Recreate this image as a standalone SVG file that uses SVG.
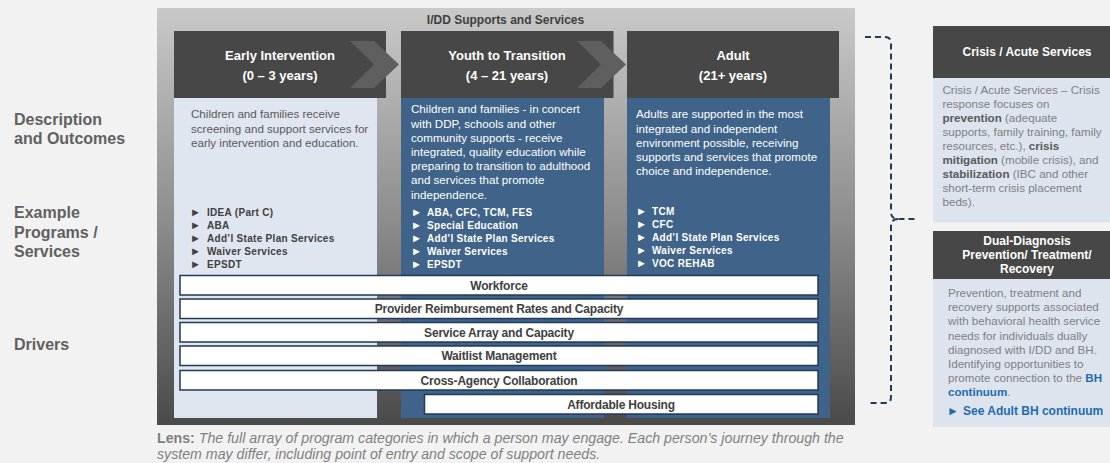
<svg xmlns="http://www.w3.org/2000/svg" width="1110" height="463" viewBox="0 0 1110 463">
<defs>
<linearGradient id="cg" x1="0" y1="0" x2="0" y2="1">
<stop offset="0" stop-color="#c9c9c9"/>
<stop offset="0.5" stop-color="#8e8e8e"/>
<stop offset="1" stop-color="#4a4a4a"/>
</linearGradient>
<style>
text{font-family:"Liberation Sans",Arial,sans-serif;}
.hdr{fill:#474747;}
.chev{fill:#5f5f5f;}
.ht{fill:#fff;font-size:13px;font-weight:bold;text-anchor:middle;}
.rh{fill:#fff;font-size:12px;font-weight:bold;text-anchor:middle;}
.lt{fill:#dfe6ef;}
.bl{fill:#406389;}
.body{font-size:11.6px;}
.g{fill:#595959;}
.w{fill:#ffffff;}
.bul{font-size:10px;font-weight:bold;letter-spacing:0.3px;}
.mk{font-size:11px;}
.lab{fill:#606060;font-size:16px;font-weight:bold;}
.drv rect{fill:#fff;stroke:#1f3a5a;stroke-width:1.5;}
.drv text{fill:#404040;font-size:12px;font-weight:bold;text-anchor:middle;letter-spacing:-0.2px;}
.rb{fill:#dde4ee;}
.rt{fill:#7f7f7f;font-size:11.6px;}
.b{font-weight:bold;fill:#595959;}
.blue{font-weight:bold;fill:#1f6bb0;}
.lens{fill:#808080;font-size:14.2px;font-style:italic;}
</style>
</defs>
<rect x="0" y="0" width="1110" height="463" fill="#f2f2f2"/>

<g id="labels">
<text class="lab" x="14" y="125">Description</text>
<text class="lab" x="14" y="144">and Outcomes</text>
<text class="lab" x="14" y="218">Example</text>
<text class="lab" x="14" y="237.5">Programs /</text>
<text class="lab" x="14" y="257">Services</text>
<text class="lab" x="14" y="350">Drivers</text>
</g>

<g id="container">
<rect x="157" y="8" width="698" height="417" fill="url(#cg)"/>
<text x="505.5" y="24" fill="#404040" font-size="12" font-weight="bold" text-anchor="middle">I/DD Supports and Services</text>
</g>

<g id="early-intervention">
<rect class="lt" x="174" y="98" width="203" height="320"/>
<rect class="hdr" x="174" y="31" width="212" height="67"/>
<polygon class="chev" points="350,41 374,41 399,64.5 374,88 350,88 374,64.5"/>
<text class="ht" x="280" y="59.5">Early Intervention</text>
<text class="ht" x="280" y="80">(0 – 3 years)</text>
<text class="body g" x="191" y="118">Children and families receive</text>
<text class="body g" x="191" y="132.5">screening and support services for</text>
<text class="body g" x="191" y="147">early intervention and education.</text>
<g fill="#404040">
<text class="mk" x="190" y="216">►</text><text class="bul" x="207" y="216">IDEA (Part C)</text>
<text class="mk" x="190" y="229">►</text><text class="bul" x="207" y="229">ABA</text>
<text class="mk" x="190" y="242">►</text><text class="bul" x="207" y="242">Add’l State Plan Services</text>
<text class="mk" x="190" y="255">►</text><text class="bul" x="207" y="255">Waiver Services</text>
<text class="mk" x="190" y="267.5">►</text><text class="bul" x="207" y="267.5">EPSDT</text>
</g>
</g>

<g id="youth-to-transition">
<rect class="bl" x="401" y="98" width="203" height="320"/>
<rect class="hdr" x="401" y="31" width="212.5" height="67"/>
<polygon class="chev" points="577,41 601,41 626,64.5 601,88 577,88 601,64.5"/>
<text class="ht" x="507" y="59.5">Youth to Transition</text>
<text class="ht" x="507" y="80">(4 – 21 years)</text>
<text class="body w" x="411" y="113.3">Children and families - in concert</text>
<text class="body w" x="411" y="127.5">with DDP, schools and other</text>
<text class="body w" x="411" y="141.7">community supports - receive</text>
<text class="body w" x="411" y="155.9">integrated, quality education while</text>
<text class="body w" x="411" y="170.1">preparing to transition to adulthood</text>
<text class="body w" x="411" y="184.3">and services that promote</text>
<text class="body w" x="411" y="198.5">independence.</text>
<g fill="#ffffff">
<text class="mk" x="411" y="216">►</text><text class="bul" x="427" y="216">ABA, CFC, TCM, FES</text>
<text class="mk" x="411" y="229">►</text><text class="bul" x="427" y="229">Special Education</text>
<text class="mk" x="411" y="242">►</text><text class="bul" x="427" y="242">Add’l State Plan Services</text>
<text class="mk" x="411" y="255">►</text><text class="bul" x="427" y="255">Waiver Services</text>
<text class="mk" x="411" y="267.5">►</text><text class="bul" x="427" y="267.5">EPSDT</text>
</g>
</g>

<g id="adult">
<rect class="bl" x="627" y="98" width="203" height="320"/>
<rect class="hdr" x="627" y="31" width="212" height="67"/>
<text class="ht" x="733" y="59.5">Adult</text>
<text class="ht" x="733" y="80">(21+ years)</text>
<text class="body w" x="636" y="118.3">Adults are supported in the most</text>
<text class="body w" x="636" y="132.5">integrated and  independent</text>
<text class="body w" x="636" y="146.7">environment possible, receiving</text>
<text class="body w" x="636" y="160.9">supports and services that promote</text>
<text class="body w" x="636" y="175.1">choice and independence.</text>
<g fill="#ffffff">
<text class="mk" x="636" y="215">►</text><text class="bul" x="652" y="215">TCM</text>
<text class="mk" x="636" y="228">►</text><text class="bul" x="652" y="228">CFC</text>
<text class="mk" x="636" y="241">►</text><text class="bul" x="652" y="241">Add’l State Plan Services</text>
<text class="mk" x="636" y="254">►</text><text class="bul" x="652" y="254">Waiver Services</text>
<text class="mk" x="636" y="266.5">►</text><text class="bul" x="652" y="266.5">VOC REHAB</text>
</g>
</g>

<g id="drivers" class="drv">
<g id="workforce"><rect x="180" y="275.5" width="638" height="19.5"/><text x="499" y="289.5">Workforce</text></g>
<g id="provider-rates"><rect x="180" y="299" width="638" height="19.5"/><text x="499" y="313">Provider Reimbursement Rates and Capacity</text></g>
<g id="service-array"><rect x="180" y="322.5" width="638" height="19.5"/><text x="499" y="336.5">Service Array and Capacity</text></g>
<g id="waitlist"><rect x="180" y="346" width="638" height="19.5"/><text x="499" y="360">Waitlist Management</text></g>
<g id="cross-agency"><rect x="180" y="370.5" width="638" height="19.5"/><text x="499" y="384.5">Cross-Agency Collaboration</text></g>
<g id="housing"><rect x="424.5" y="394.5" width="393.5" height="19.5"/><text x="621" y="408.5">Affordable Housing</text></g>
</g>

<g id="connectors">
<path d="M865,37 H885 Q891,37 891,43 V212 Q891,219 898,219 H918 M898,219 Q891,219 891,226 V397 Q891,403 885,403 H867" fill="none" stroke="#1f3a5a" stroke-width="2" stroke-dasharray="6,4"/>
</g>

<g id="crisis-acute">
<rect class="rb" x="933" y="78" width="177" height="144.5"/>
<rect class="hdr" x="933" y="26" width="177" height="52"/>
<text class="rh" x="1027" y="56">Crisis / Acute Services</text>
<text class="rt" x="942.5" y="94">Crisis / Acute Services – Crisis</text>
<text class="rt" x="942.5" y="108">response focuses on</text>
<text class="rt" x="942.5" y="122"><tspan class="b">prevention</tspan> (adequate</text>
<text class="rt" x="942.5" y="136">supports, family training,  family</text>
<text class="rt" x="942.5" y="150">resources, etc.), <tspan class="b">crisis</tspan></text>
<text class="rt" x="942.5" y="164"><tspan class="b">mitigation</tspan> (mobile crisis), and</text>
<text class="rt" x="942.5" y="178"><tspan class="b">stabilization</tspan> (IBC and other</text>
<text class="rt" x="942.5" y="192">short-term crisis placement</text>
<text class="rt" x="942.5" y="206">beds).</text>
</g>

<g id="dual-diagnosis">
<rect class="rb" x="933" y="279" width="177" height="148"/>
<rect class="hdr" x="933" y="231" width="177" height="48"/>
<text class="rh" x="1027" y="244.5">Dual-Diagnosis</text>
<text class="rh" x="1027" y="258.5">Prevention/ Treatment/</text>
<text class="rh" x="1027" y="272.5">Recovery</text>
<text class="rt" x="948" y="297">Prevention, treatment and</text>
<text class="rt" x="948" y="311.2">recovery supports associated</text>
<text class="rt" x="948" y="325.4">with behavioral health service</text>
<text class="rt" x="948" y="339.6">needs for individuals dually</text>
<text class="rt" x="948" y="353.8">diagnosed with I/DD and BH.</text>
<text class="rt" x="948" y="368">Identifying opportunities to</text>
<text class="rt" x="948" y="382.2">promote connection to the <tspan class="blue">BH</tspan></text>
<text class="rt" x="948" y="396.4"><tspan class="blue">continuum</tspan>.</text>
<text x="947" y="414.5" fill="#1f6bb0" font-size="12">►</text>
<text x="963" y="414.5" fill="#1f6bb0" font-size="12" font-weight="bold">See Adult BH continuum</text>
</g>

<g id="lens">
<text class="lens" x="157" y="442.5"><tspan font-weight="bold" font-style="normal">Lens:</tspan> The full array of program categories in which a person may engage. Each person’s journey through the</text>
<text class="lens" x="157" y="459">system may differ, including point of entry and scope of support needs.</text>
</g>
</svg>
